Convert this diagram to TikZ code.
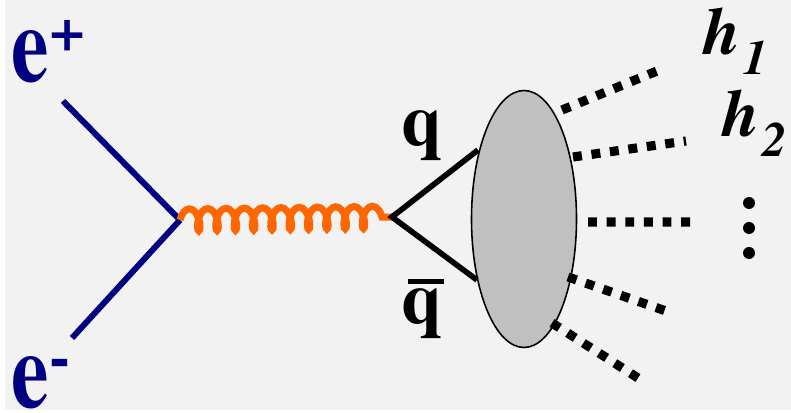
\documentclass[tikz,border=0pt]{standalone}
\usepackage{graphicx}
\usepackage{fontspec}
\setmainfont{texgyretermes}[Extension=.otf,UprightFont=*-regular,
  BoldFont=*-bold,ItalicFont=*-italic,BoldItalicFont=*-bolditalic]
\usetikzlibrary{shapes.geometric,decorations.pathmorphing}
\definecolor{navy}{HTML}{000080}
\definecolor{photon}{HTML}{FF6600}
\definecolor{blobgray}{HTML}{C0C0C0}
\definecolor{bg}{HTML}{F2F2F2}
\begin{document}
\begin{tikzpicture}[
  lepton/.style={navy,line width=1.7pt},
  quark/.style={line width=1.6pt},
  boson/.style={photon,line width=2pt,decorate,
    decoration={coil,aspect=0.45,segment length=0.183cm,amplitude=0.11cm}},
  hadron/.style={line width=2.6pt,dash pattern=on 2.55pt off 2.75pt},
  blob/.style={ellipse,draw,line width=0.45pt,fill=blobgray,
    minimum width=1.05cm,minimum height=2.57cm,inner sep=0},
  lbl/.style={inner sep=0,anchor=base west}]
  \fill[white] (0,0) rectangle (7.91,4.13);
  \fill[bg] (0.05,0.03) rectangle (7.91,4.13);
  \useasboundingbox (0,0) rectangle (7.91,4.13);
  \coordinate (A) at (0.63,3.12); \coordinate (B) at (0.72,0.75);
  \coordinate (C) at (1.80,1.93); \coordinate (D) at (3.92,1.96);
  \coordinate (E) at (4.78,2.63); \coordinate (F) at (4.77,1.33);
  \coordinate (G) at (5.62,3.03); \coordinate (H) at (6.57,3.42);
  \coordinate (I) at (5.73,2.56); \coordinate (J) at (6.86,2.72);
  \coordinate (K) at (5.88,1.91); \coordinate (L) at (6.91,1.91);
  \coordinate (M) at (5.68,1.36); \coordinate (N) at (6.66,1.02);
  \coordinate (O) at (5.52,0.90); \coordinate (P) at (6.38,0.35);
  \node[blob] (X) at (5.24,1.94) {};
  \draw[lepton] (A)--(C) (C)--(B);
  \draw[boson] (C)--(D);
  \draw[quark] (E)--(D)--(F);
  \draw[hadron] (G)--(H) (I)--(J) (K)--(L) (M)--(N) (O)--(P);
  \foreach \y in {2.10,1.85,1.60} \fill (7.49,\y) circle (.06);
  % labels
  \node[lbl,navy,font=\bfseries\fontsize{24}{24}\selectfont] (ep) at (0.11,3.31)
    {\scalebox{1}[1.28]{e}\raisebox{0.30cm}{\fontsize{18}{18}\selectfont+}};
  \node[lbl,navy,font=\bfseries\fontsize{24}{24}\selectfont] (em) at (0.11,0.05)
    {\scalebox{1}[1.28]{e}\raisebox{0.30cm}{\fontsize{18}{18}\selectfont-}};
  \node[lbl,font=\bfseries\fontsize{21}{21}\selectfont] (q) at (4.01,2.67) {q};
  \node[lbl,font=\bfseries\fontsize{21}{21}\selectfont] (qb) at (4.01,0.89)
    {\rlap{\hspace{0.06cm}\rule[0.40cm]{0.36cm}{0.05cm}}q};
  \node[lbl,font=\bfseries\itshape\fontsize{19}{19}\selectfont] (h1) at (7.03,3.58)
    {h\hspace{0.03cm}\raisebox{-0.2cm}{\fontsize{14}{14}\selectfont 1}};
  \node[lbl,font=\bfseries\itshape\fontsize{19}{19}\selectfont] (h2) at (7.22,2.76)
    {h\hspace{0.03cm}\raisebox{-0.2cm}{\fontsize{14}{14}\selectfont 2}};
\end{tikzpicture}
\end{document}
